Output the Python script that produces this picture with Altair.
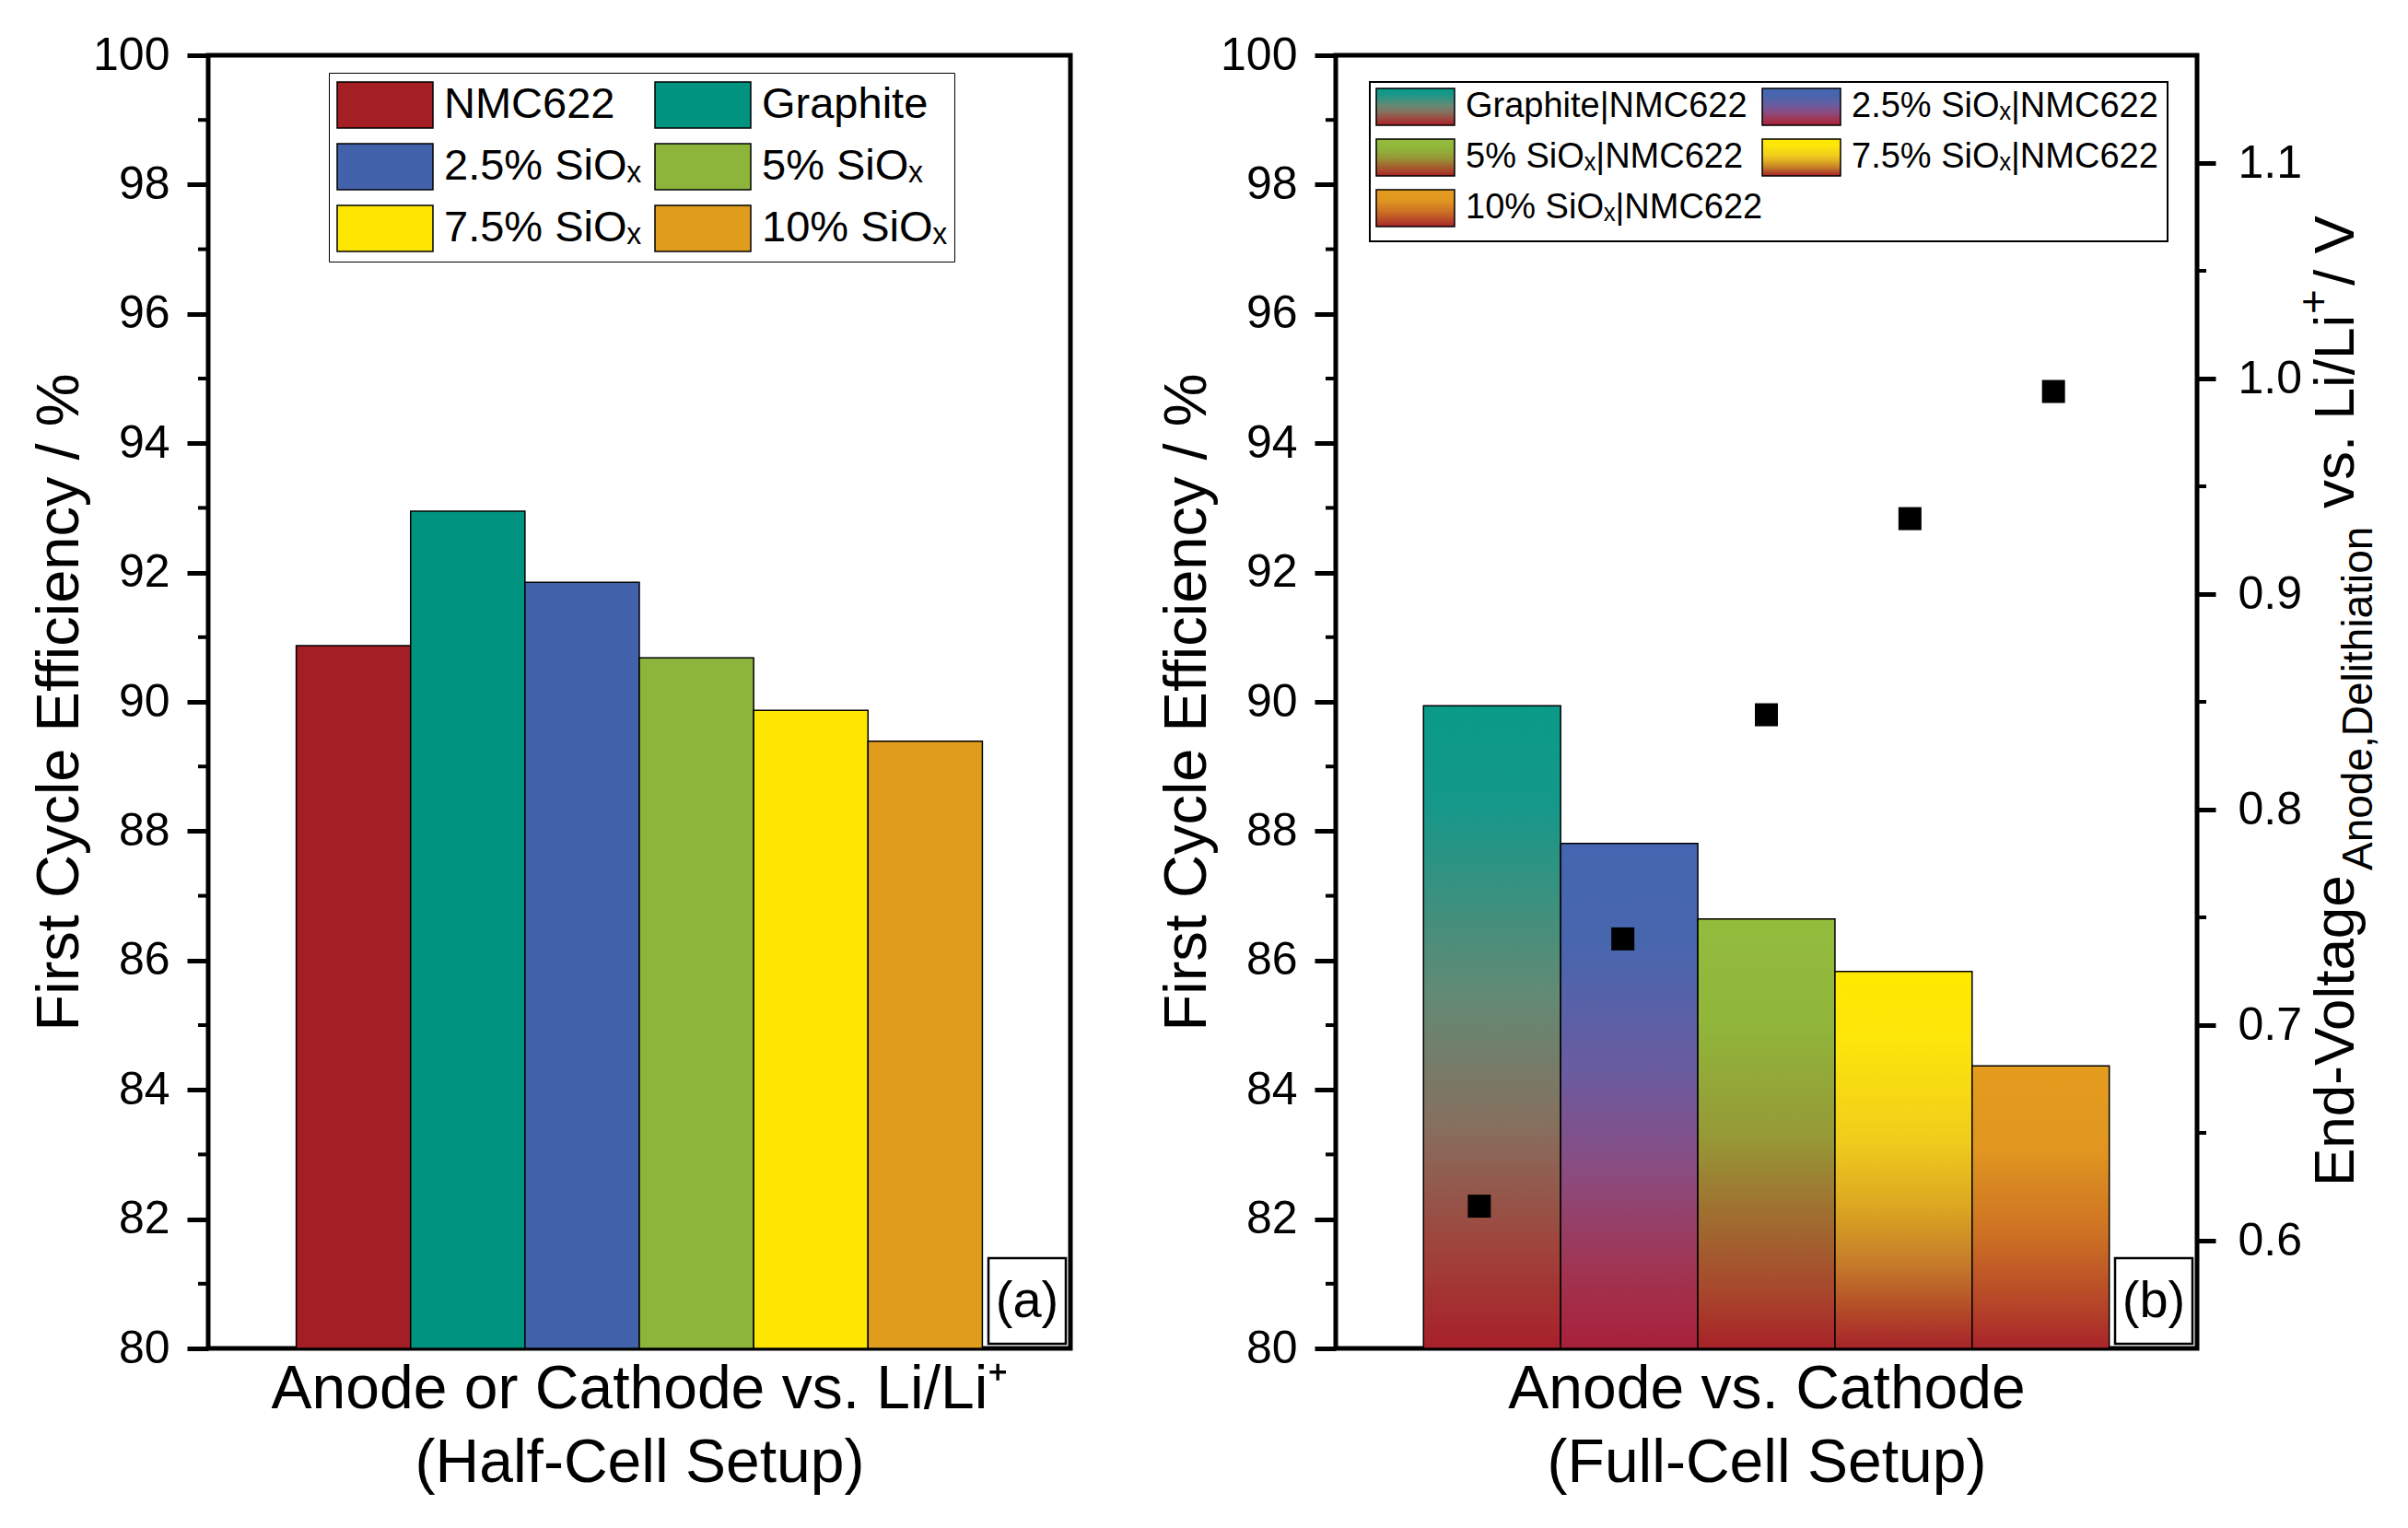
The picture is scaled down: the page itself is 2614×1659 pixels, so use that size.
import altair as alt
import pandas as pd

FONT = "Liberation Sans"

# ---------------- data ----------------
half_cats = ["NMC622", "Graphite", "2.5% SiOₓ", "5% SiOₓ", "7.5% SiOₓ", "10% SiOₓ"]
half_fce = [90.87, 92.95, 91.85, 90.68, 89.87, 89.39]
half_colors = ["#a31f24", "#009480", "#4262ab", "#8db53c", "#ffe600", "#e09c1c"]

full_cats = ["Graphite|NMC622", "2.5% SiOₓ|NMC622", "5% SiOₓ|NMC622",
             "7.5% SiOₓ|NMC622", "10% SiOₓ|NMC622"]
full_fce = [89.94, 87.81, 86.64, 85.83, 84.37]
full_voltage = [0.616, 0.740, 0.844, 0.935, 0.994]

# gradient colour stops (top -> bottom) for the full-cell bars
full_stops = [
    [(0, "#0a9a88"), (0.15, "#14988a"), (0.45, "#628a74"), (0.65, "#86705f"),
     (0.85, "#a0423a"), (1, "#a8202b")],
    [(0, "#4466b0"), (0.2, "#4866ae"), (0.45, "#6a5ca0"), (0.65, "#8a4c80"),
     (0.85, "#a13450"), (1, "#a8203a")],
    [(0, "#93bc3d"), (0.25, "#90b53a"), (0.5, "#969a36"), (0.7, "#a06c30"),
     (0.88, "#a8442c"), (1, "#a82228")],
    [(0, "#ffe900"), (0.18, "#fde60a"), (0.45, "#f0cc1c"), (0.62, "#dca822"),
     (0.78, "#c47a2a"), (0.9, "#b24a28"), (1, "#a8242a")],
    [(0, "#e49c1e"), (0.3, "#e09620"), (0.6, "#cc7024"), (0.85, "#b44428"),
     (1, "#a8242a")],
]

fce_major = [80, 82, 84, 86, 88, 90, 92, 94, 96, 98, 100]
fce_minor = [81, 83, 85, 87, 89, 91, 93, 95, 97, 99]
v_major = [0.6, 0.7, 0.8, 0.9, 1.0, 1.1]
v_minor = [0.65, 0.75, 0.85, 0.95, 1.05]

W1, W2, H = 936, 935, 1404

half_df = pd.DataFrame({"cat": half_cats, "fce": half_fce})
full_df = pd.DataFrame({"i": list(range(len(full_cats))), "cat": full_cats,
                        "fce": full_fce, "v": full_voltage})
fce_minor_df = pd.DataFrame({"fce": fce_minor})
v_minor_df = pd.DataFrame({"v": v_minor})
one = alt.Data(values=[{"k": 0}])


def grad(stops):
    return {"gradient": "linear", "x1": 0, "y1": 0, "x2": 0, "y2": 1,
            "stops": [{"offset": o, "color": c} for o, c in stops]}


yscale = alt.Scale(domain=[80, 100], nice=False, zero=False)
yaxis = alt.Axis(values=fce_major, tickSize=23, tickWidth=5, tickColor="black",
                 labelFontSize=50, labelFont=FONT, labelColor="black", labelPadding=19,
                 title="First Cycle Efficiency / %", titleFontSize=65, titleFont=FONT,
                 titleFontWeight="normal", titleColor="black", titlePadding=2,
                 domain=False, grid=False, orient="left")


def xaxis(lines):
    return alt.Axis(labels=False, ticks=False, domain=False, grid=False, title=lines,
                    titleFontSize=66, titleFont=FONT, titleFontWeight="normal",
                    titleColor="black", titlePadding=12, titleLineHeight=80)


def minor_left():
    return alt.Chart(fce_minor_df).mark_rule(color="black", strokeWidth=4).encode(
        y=alt.Y("fce:Q", scale=yscale, axis=yaxis),
        x=alt.value(-11), x2=alt.value(0))


def panel_label(txt, w):
    box = alt.Chart(one).mark_rect(fill="white", stroke="black", strokeWidth=2.5).encode(
        x=alt.value(w - 89), x2=alt.value(w - 5), y=alt.value(H - 98), y2=alt.value(H - 5))
    t = alt.Chart(one).mark_text(text=txt, font=FONT, fontSize=56, color="black",
                                 align="center", baseline="middle").encode(
        x=alt.value(w - 47), y=alt.value(H - 51))
    return [box, t]


# ---------------- panel (a) ----------------
xs1 = alt.Scale(domain=half_cats, paddingInner=0, paddingOuter=0.77)
bars_a = alt.Chart(half_df).mark_bar(stroke="black", strokeWidth=1.5, opacity=1).encode(
    x=alt.X("cat:N", scale=xs1, sort=half_cats,
            axis=xaxis(["Anode or Cathode vs. Li/Li⁺", "(Half-Cell Setup)"])),
    y=alt.Y("fce:Q", scale=yscale, axis=yaxis),
    y2=alt.datum(80),
    color=alt.Color("cat:N", scale=alt.Scale(domain=half_cats, range=half_colors),
                    legend=alt.Legend(orient="none", legendX=131, legendY=19, columns=2,
                                      direction="horizontal",
                                      symbolType="M-2,-0.96H2V0.96H-2Z", symbolSize=2704,
                                      symbolOffset=26,
                                      symbolStrokeColor="black", symbolStrokeWidth=1.5,
                                      labelFontSize=47, labelFont=FONT, labelColor="black",
                                      labelOffset=37, rowPadding=11, columnPadding=12,
                                      padding=8, strokeColor="black", fillColor="white",
                                      title=None, labelLimit=0)),
)
left = alt.layer(bars_a, minor_left(), *panel_label("(a)", W1)).properties(width=W1, height=H)

# ---------------- panel (b) ----------------
xs2 = alt.Scale(domain=full_cats, paddingInner=0, paddingOuter=0.64)
xax2 = xaxis(["Anode vs. Cathode", "(Full-Cell Setup)"])
bars_b = []
for k in range(len(full_cats)):
    bars_b.append(
        alt.Chart(full_df).transform_filter(alt.datum.i == k).mark_bar(
            fill=grad(full_stops[k]), stroke="black", strokeWidth=1.5).encode(
            x=alt.X("cat:N", scale=xs2, sort=full_cats, axis=xax2),
            y=alt.Y("fce:Q", scale=yscale, axis=yaxis),
            y2=alt.datum(80)))

# manual legend with gradient swatches
leg_box = alt.Chart(one).mark_rect(fill="white", stroke="black", strokeWidth=2).encode(
    x=alt.value(37), x2=alt.value(903), y=alt.value(29), y2=alt.value(202))
col_x = [44, 463]
row_y = [56, 111, 166]
swatches = []
leg_rows = []
for k, lab in enumerate(full_cats):
    c, r = k % 2, k // 2
    swatches.append(alt.Chart(one).mark_rect(
        fill=grad(full_stops[k]), stroke="black", strokeWidth=1.5).encode(
        x=alt.value(col_x[c]), x2=alt.value(col_x[c] + 85),
        y=alt.value(row_y[r] - 20), y2=alt.value(row_y[r] + 20)))
    leg_rows.append({"label": lab, "lx": col_x[c] + 97, "ly": row_y[r]})
leg_text = alt.Chart(pd.DataFrame(leg_rows)).mark_text(
    font=FONT, fontSize=38, color="black", align="left", baseline="middle").encode(
    x=alt.X("lx:Q", scale=None), y=alt.Y("ly:Q", scale=None), text="label:N")

# right axis title (rich text: subscript and superscript pieces)
title_main = pd.DataFrame({"t": ["End-Voltage", "vs. Li/Li", "/ V"],
                           "tx": [1105, 1105, 1105], "ty": [1228, 492, 250]})
title_small = pd.DataFrame({"t": ["Anode,Delithiation", "+"],
                            "tx": [1125, 1077], "ty": [885, 281]})
t_main = alt.Chart(title_main).mark_text(font=FONT, fontSize=62, color="black",
                                         angle=270, align="left", baseline="alphabetic").encode(
    x=alt.X("tx:Q", scale=None), y=alt.Y("ty:Q", scale=None), text="t:N")
t_small = alt.Chart(title_small).mark_text(font=FONT, fontSize=46, color="black",
                                           angle=270, align="left", baseline="alphabetic").encode(
    x=alt.X("tx:Q", scale=None), y=alt.Y("ty:Q", scale=None), text="t:N")

left_group_b = alt.layer(*bars_b, minor_left(), leg_box, *swatches, leg_text,
                         *panel_label("(b)", W2), t_main, t_small)

vscale = alt.Scale(domain=[0.55, 1.15], nice=False, zero=False)
vaxis = alt.Axis(orient="right", values=v_major, format=".1f", tickSize=20, tickWidth=5,
                 tickColor="black", labelFontSize=50, labelFont=FONT, labelColor="black",
                 labelPadding=24, title=None, domain=False, grid=False)
points = alt.Chart(full_df).mark_square(size=625, color="black", opacity=1).encode(
    x=alt.X("cat:N", scale=alt.Scale(type="point", domain=full_cats, padding=1.01),
            axis=None),
    y=alt.Y("v:Q", scale=vscale, axis=vaxis))
minor_right = alt.Chart(v_minor_df).mark_rule(color="black", strokeWidth=4).encode(
    y=alt.Y("v:Q", scale=vscale, axis=vaxis),
    x=alt.value(W2), x2=alt.value(W2 + 10))
right_group_b = alt.layer(points, minor_right)

right = alt.layer(left_group_b, right_group_b).resolve_scale(
    y="independent", x="independent").properties(width=W2, height=H)

chart = alt.hconcat(left, right, spacing=89).configure_view(
    stroke="black", strokeWidth=5).properties(
    padding={"left": 22, "top": 24, "right": 8, "bottom": 8})

chart.save("out.html", embed_options={"renderer": "svg", "actions": False})
